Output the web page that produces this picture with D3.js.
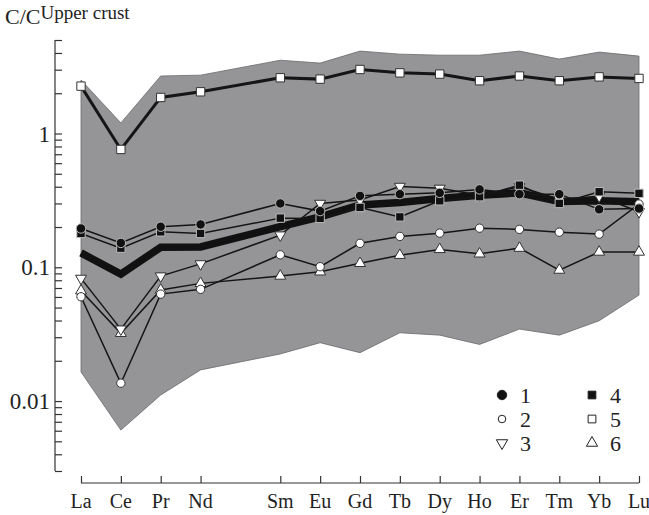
<!DOCTYPE html>
<html>
<head>
<meta charset="utf-8">
<script src="https://cdn.jsdelivr.net/npm/d3@7/dist/d3.min.js"></script>
<style>
  html, body { margin: 0; padding: 0; background: #fff; }
  svg { display: block; }
  text { font-family: "Liberation Serif", "Times New Roman", "DejaVu Serif", serif; fill: #222; }
</style>
</head>
<body>
<svg id="chart" width="649" height="515" font-family="Liberation Serif, Times New Roman, serif"></svg>
<script>
// ---- data ----
const elements = ["La","Ce","Pr","Nd","Pm","Sm","Eu","Gd","Tb","Dy","Ho","Er","Tm","Yb","Lu"];
const labels   = ["La","Ce","Pr","Nd","Sm","Eu","Gd","Tb","Dy","Ho","Er","Tm","Yb","Lu"];
const yTickValues = [1, 0.1, 0.01];
const yTickLabels = ["1", "0.1", "0.01"];

const upperEnvelope = [2.51,1.20,2.69,2.73,3.53,3.36,4.13,3.92,3.85,3.85,4.13,3.60,4.06,3.79];
const lowerEnvelope = [0.0165,0.00607,0.0111,0.0171,0.0225,0.0273,0.0230,0.0324,0.0311,0.0265,0.0345,0.0311,0.0398,0.0620];

const series1 = [0.195,0.152,0.201,0.209,0.300,0.263,0.342,0.352,0.360,0.382,0.352,0.352,0.271,0.275];
const series2 = [0.0602,0.0136,0.063,0.0684,0.124,0.101,0.151,0.170,0.180,0.196,0.192,0.183,0.177,0.297];
const series3 = [0.0826,0.0345,0.086,0.106,0.174,0.300,0.318,0.402,0.389,0.346,0.400,0.322,0.340,0.260];
const series4 = [0.179,0.139,0.184,0.179,0.233,0.232,0.280,0.238,0.314,0.337,0.411,0.300,0.367,0.357];
const series5 = [2.26,0.760,1.86,2.05,2.61,2.55,3.01,2.84,2.78,2.48,2.69,2.48,2.65,2.58];
const series6 = [0.0667,0.0321,0.0676,0.0758,0.086,0.0925,0.107,0.123,0.136,0.126,0.139,0.0953,0.130,0.130];
const meanCurve = [0.128,0.089,0.141,0.142,0.201,0.238,0.292,0.305,0.327,0.346,0.360,0.310,0.314,0.309];

const legendNames = ["1","2","3","4","5","6"];

// ---- setup ----
const FONT = "Liberation Serif, Times New Roman, serif";
const svg = d3.select("#chart");
const x = d3.scalePoint().domain(elements).range([81, 639]);
const y = d3.scaleLog().domain([0.003, 5]).range([471, 40]);

// gray envelope
const env = labels.map((e, i) => ({e, hi: upperEnvelope[i], lo: lowerEnvelope[i]}));
svg.append("path")
  .attr("d", d3.area().x(d => x(d.e)).y0(d => y(d.lo)).y1(d => y(d.hi))(env))
  .attr("fill", "#959597")
  .attr("stroke", "#6a6a6c")
  .attr("stroke-width", 0.8);

// y axis
const yAxis = d3.axisRight(y)
  .tickValues(d3.range(-3, 1).flatMap(p => d3.range(1, 10).map(m => m * Math.pow(10, p))).filter(v => v >= 0.003 - 1e-9 && v <= 5 + 1e-9))
  .tickSize(7).tickFormat("");
const gy = svg.append("g").attr("transform", "translate(55,0)").call(yAxis);
gy.select(".domain").attr("d", `M0,${y(0.003)}V${y(5)}`).attr("stroke", "#333").attr("stroke-width", 1.2);
gy.selectAll(".tick line").attr("stroke", "#333").attr("stroke-width", 1.2);
svg.selectAll(".ylab").data(yTickValues).enter().append("text")
  .attr("font-family", FONT)
  .attr("x", 50).attr("y", d => y(d)).attr("dy", "0.35em")
  .attr("text-anchor", "end").attr("font-size", 23)
  .text((d, i) => yTickLabels[i]);

// x axis
const xAxis = d3.axisTop(x).tickValues(labels).tickSize(7).tickFormat("");
const gx = svg.append("g").attr("transform", "translate(0,483)").call(xAxis);
gx.select(".domain").attr("d", `M${x("La")},0H${x("Lu")}`).attr("stroke", "#333").attr("stroke-width", 1.2);
gx.selectAll(".tick line").attr("stroke", "#333").attr("stroke-width", 1.2);
svg.selectAll(".xlab").data(labels).enter().append("text")
  .attr("font-family", FONT)
  .attr("x", d => x(d)).attr("y", 508)
  .attr("text-anchor", "middle").attr("font-size", 20)
  .text(d => d);

// title
const title = svg.append("text").attr("font-family", FONT).attr("x", 5).attr("y", 24).attr("font-size", 22);
title.append("tspan").text("C/C");
title.append("tspan").attr("dy", -5).attr("font-size", 19).text("Upper crust");

// lines
const line = d3.line().x(d => x(d.e)).y(d => y(d.v));
const toPts = arr => labels.map((e, i) => ({e, v: arr[i]}));

svg.append("path").attr("d", line(toPts(meanCurve)))
  .attr("fill", "none").attr("stroke", "#111").attr("stroke-width", 7.5).attr("stroke-linejoin", "miter");

const seriesDefs = [
  {data: series6, sym: d3.symbolTriangle, rot: 0,   fill: "#fff", stroke: "#333", size: 52, lw: 1.5},
  {data: series2, sym: d3.symbolCircle,   rot: 0,   fill: "#fff", stroke: "#333", size: 55, lw: 1.5},
  {data: series3, sym: d3.symbolTriangle, rot: 180, fill: "#fff", stroke: "#333", size: 52, lw: 1.5},
  {data: series4, sym: d3.symbolSquare,   rot: 0,   fill: "#111", stroke: "#bbb", size: 70, lw: 1.5},
  {data: series1, sym: d3.symbolCircle,   rot: 0,   fill: "#111", stroke: "#bbb", size: 70, lw: 1.5},
  {data: series5, sym: d3.symbolSquare,   rot: 0,   fill: "#fff", stroke: "#333", size: 70, lw: 3}
];

seriesDefs.forEach(s => {
  svg.append("path").attr("d", line(toPts(s.data)))
    .attr("fill", "none").attr("stroke", "#151515").attr("stroke-width", s.lw);
});
seriesDefs.forEach(s => {
  svg.append("g").selectAll("path").data(toPts(s.data)).enter().append("path")
    .attr("d", d3.symbol().type(s.sym).size(s.size))
    .attr("transform", d => `translate(${x(d.e)},${y(d.v)}) rotate(${s.rot})`)
    .attr("fill", s.fill).attr("stroke", s.stroke).attr("stroke-width", 1);
});

// legend
const legendDefs = [
  {sym: d3.symbolCircle,   rot: 0,   fill: "#111", size: 70},
  {sym: d3.symbolCircle,   rot: 0,   fill: "#fff", size: 45},
  {sym: d3.symbolTriangle, rot: 180, fill: "#fff", size: 55},
  {sym: d3.symbolSquare,   rot: 0,   fill: "#111", size: 60},
  {sym: d3.symbolSquare,   rot: 0,   fill: "#fff", size: 60},
  {sym: d3.symbolTriangle, rot: 0,   fill: "#fff", size: 55}
];
const legCols = [502, 592];
const legRows = [395, 419, 443];
legendNames.forEach((name, i) => {
  const cx = legCols[Math.floor(i / 3)], cy = legRows[i % 3];
  const L = legendDefs[i];
  svg.append("path").attr("d", d3.symbol().type(L.sym).size(L.size))
    .attr("transform", `translate(${cx},${cy}) rotate(${L.rot})`)
    .attr("fill", L.fill).attr("stroke", "#222").attr("stroke-width", 1);
  svg.append("text").attr("font-family", FONT).attr("x", cx + 18).attr("y", cy).attr("dy", "0.35em")
    .attr("font-size", 22).text(name);
});
</script>
</body>
</html>
